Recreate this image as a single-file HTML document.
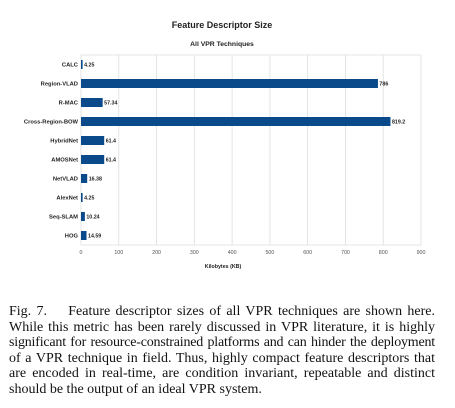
<!DOCTYPE html>
<html><head><meta charset="utf-8"><style>
body{margin:0;background:#fff;width:455px;height:408px;overflow:hidden;position:relative}
svg{position:absolute;left:0;top:0}
#cap{position:absolute;left:9px;top:304px;width:426px;font-family:"Liberation Serif",serif;font-size:14px;line-height:15.6px;color:#111}
#cap div{text-align:justify;text-align-last:justify;white-space:nowrap}
#cap div.last{text-align-last:left}
</style></head><body>
<svg id="chart" width="455" height="290" font-family="Liberation Sans, sans-serif"></svg>
<div id="cap">
<div>Fig. 7.&nbsp;&nbsp;&nbsp; Feature descriptor sizes of all VPR techniques are shown here.</div>
<div>While this metric has been rarely discussed in VPR literature, it is highly</div>
<div style="letter-spacing:-0.2px;word-spacing:-0.3px">significant for resource-constrained platforms and can hinder the deployment</div>
<div>of a VPR technique in field. Thus, highly compact feature descriptors that</div>
<div>are encoded in real-time, are condition invariant, repeatable and distinct</div>
<div class="last">should be the output of an ideal VPR system.</div>
</div>
<script>
const categories=["CALC","Region-VLAD","R-MAC","Cross-Region-BOW","HybridNet","AMOSNet","NetVLAD","AlexNet","Seq-SLAM","HOG"];
const values=[4.25,786,57.34,819.2,61.4,61.4,16.38,4.25,10.24,14.59];
const labels=["4.25","786","57.34","819.2","61.4","61.4","16.38","4.25","10.24","14.59"];
const ticks=[0,100,200,300,400,500,600,700,800,900];
const NS="http://www.w3.org/2000/svg";
const svg=document.getElementById('chart');
const x0=81,x1=421,y0=55,y1=245,maxV=900;
const xs=v=>x0+(v/maxV)*(x1-x0);
const band=(y1-y0)/categories.length;
const yc=i=>y0+band*(i+0.5);
function mk(t,a,txt){const e=document.createElementNS(NS,t);for(const k in a)e.setAttribute(k,a[k]);if(txt!==undefined)e.textContent=txt;svg.appendChild(e);return e;}
let e;
e=mk('text',{x:222,y:28,'text-anchor':'middle','font-size':'9','font-weight':'bold',fill:'#222'},'Feature Descriptor Size');

e=mk('text',{x:222,y:46,'text-anchor':'middle','font-size':'6.8','font-weight':'bold',fill:'#222'},'All VPR Techniques');

ticks.forEach(t=>{
 e=mk('line',{x1:xs(t),x2:xs(t),y1:y0,y2:y1,stroke:'#ddd','stroke-width':'0.8'});
 
 e=mk('text',{x:xs(t),y:254,'text-anchor':'middle','font-size':'5.3',fill:'#555'},String(t));
 
});
e=mk('line',{x1:x0,x2:x1,y1:y0,y2:y0,stroke:'#ddd','stroke-width':'0.8'});

e=mk('line',{x1:x0,x2:x1,y1:y1,y2:y1,stroke:'#ddd','stroke-width':'0.8'});

categories.forEach((c,i)=>{
 const y=yc(i);
 e=mk('text',{x:x0-3,y:y+2,'text-anchor':'end','font-size':'5.8','font-weight':'bold',fill:'#222'},c);
 
 e=mk('rect',{x:x0,y:y-4.5,width:Math.max(1.5,xs(values[i])-x0),height:9,fill:'#0a4a8a'});
 
 e=mk('text',{x:xs(values[i])+1.5,y:y+2,'font-size':'5.3','font-weight':'bold',fill:'#222'},labels[i]);
 
});
e=mk('text',{x:223,y:268,'text-anchor':'middle','font-size':'5.3','font-weight':'bold',fill:'#222'},'Kilobytes (KB)');

</script>
</body></html>
